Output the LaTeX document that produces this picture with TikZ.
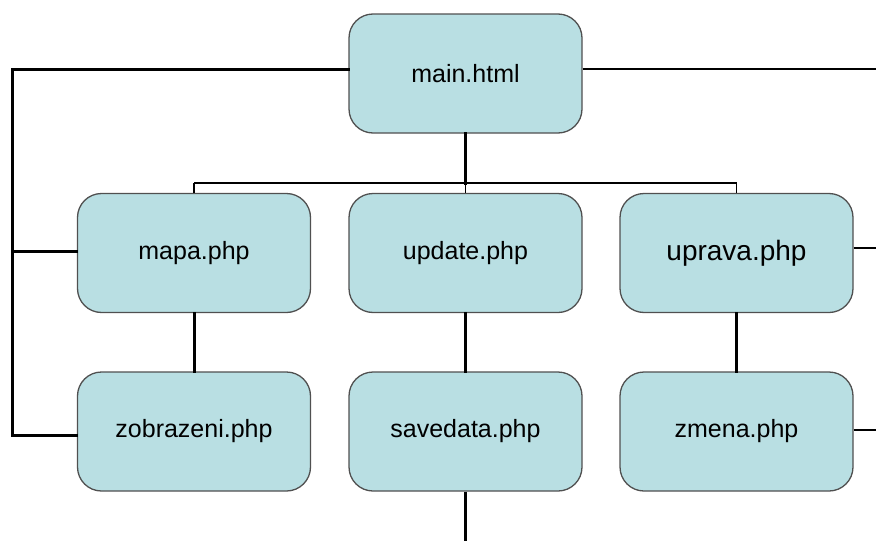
\documentclass[tikz,border=0pt]{standalone}
\usepackage{fontspec}
\setmainfont{Liberation Sans}
\definecolor{boxfill}{HTML}{B9DFE3}
\definecolor{boxline}{HTML}{505050}
\begin{document}
\begin{tikzpicture}[x=1pt,y=-1pt,
  filebox/.style={draw=boxline, line width=1.3pt, fill=boxfill, rounded corners=24pt,
    minimum width=233pt, minimum height=119pt, inner sep=0pt,
    font=\fontsize{25}{30}\selectfont},
  thickline/.style={line width=3pt, line cap=rect},
  thinline/.style={line width=1.6pt}]
\useasboundingbox (0,0) rectangle (876,541);
% nodes
\node[filebox] (main) at (465.5,73.5) {main.html};
\node[filebox] (mapa) at (194,253) {mapa.php};
\node[filebox] (update) at (465.5,253) {update.php};
\node[filebox, font=\fontsize{28}{32}\selectfont] (uprava) at (736.5,253) {\raisebox{3pt}{uprava.php}};
\node[filebox] (zobr) at (194,431.5) {zobrazeni.php};
\node[filebox] (save) at (465.5,431.5) {savedata.php};
\node[filebox] (zmena) at (736.5,431.5) {zmena.php};
% free ends
\coordinate (lt) at (12,69);
\coordinate (lm) at (12,251);
\coordinate (lb) at (12,435);
\coordinate (rt) at (876,69);
\coordinate (rm) at (876,248);
\coordinate (rb) at (876,430);
\coordinate (bus) at (465.5,183);
\coordinate (busl) at (194,183);
\coordinate (busr) at (736.5,183);
\coordinate (down) at (465.5,541);
% connectors
\draw[thickline] (main.west |- lt) -- (lt) -- (lb) -- (zobr.west |- lb);
\draw[thickline] (lm) -- (mapa.west |- lm);
\draw[thinline] (main.east |- rt) -- (rt);
\draw[line width=2.4pt] (uprava.east |- rm) -- (rm);
\draw[thinline] (zmena.east |- rb) -- (rb);
\draw[thickline] (main.south) -- (bus);
\draw[thinline] (busl) -- (busr);
\draw[thinline] (busl) -- (mapa.north);
\draw[thinline] (bus) -- (update.north);
\draw[thinline] (busr) -- (uprava.north);
\draw[thickline] (mapa.south) -- (zobr.north);
\draw[thickline] (update.south) -- (save.north);
\draw[thickline] (uprava.south) -- (zmena.north);
\draw[thickline, line cap=butt] (save.south) -- (down);
\end{tikzpicture}
\end{document}
